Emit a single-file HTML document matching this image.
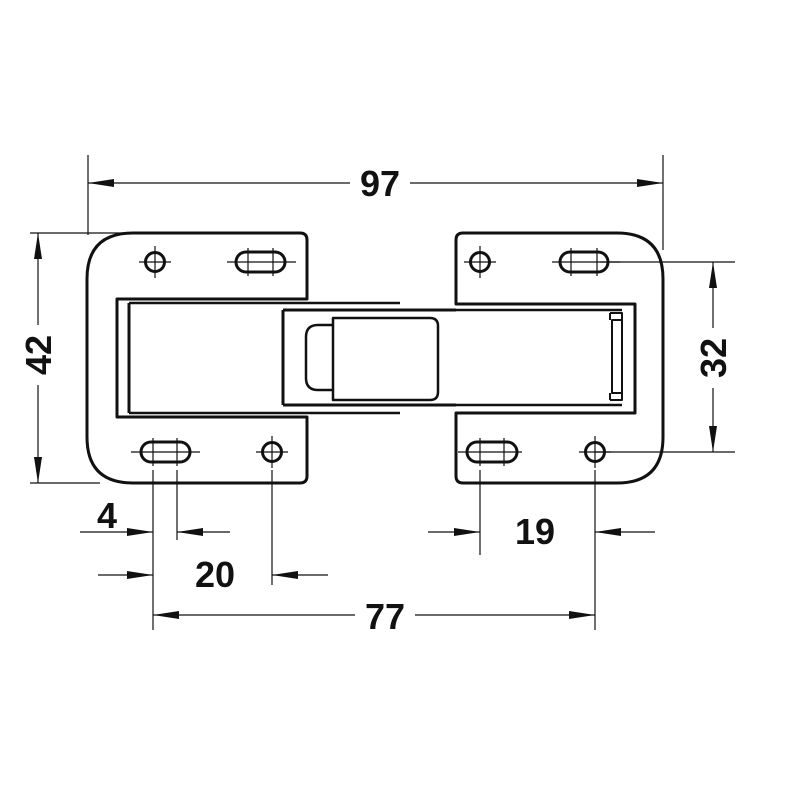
<!DOCTYPE html>
<html><head><style>body{margin:0;background:#fff}svg{display:block}text{font-family:"Liberation Sans",sans-serif;font-weight:bold;font-size:36px;fill:#111}</style></head>
<body>
<svg width="800" height="800" viewBox="0 0 800 800" xmlns="http://www.w3.org/2000/svg">
<defs>
<marker id="a" viewBox="0 0 10 10" refX="10" refY="5" markerWidth="26" markerHeight="8" markerUnits="userSpaceOnUse" orient="auto-start-reverse" preserveAspectRatio="none"><path d="M0,0L10,5L0,10z" fill="#111"/></marker>
</defs>
<g stroke="#111" stroke-width="3" fill="none" stroke-linejoin="round">
<path d="M133,233H300Q307,233 307,240V299H117V417H307V476Q307,483 300,483H133Q87,483 87,437V279Q87,233 133,233Z"/>
<path d="M463,233H617Q663,233 663,279V437Q663,483 617,483H463Q456,483 456,476V413H635V304H456V240Q456,233 463,233Z"/>
<path d="M129,303V413"/>
<path d="M129,303H400M129,413H400" stroke-width="2.5"/>
<path d="M283,310H456M283,405H456M283,310V405"/>
<path d="M333,318H430Q438,318 438,326V392Q438,400 430,400H333Z" stroke-width="2.5"/>
<path d="M333,325H318Q306,325 306,337V378Q306,390 318,390H333" stroke-width="2.5"/>
<path d="M456,310H622M456,405H622" stroke-width="2.5"/>
<path d="M610,313H622V400H610M610,313V320M610,400V393M622,320H612V393H622" stroke-width="2"/>
<circle cx="155" cy="262" r="9.5"/><circle cx="272" cy="452" r="9.5"/>
<circle cx="480" cy="262" r="9.5"/><circle cx="595" cy="452" r="9.5"/>
<rect x="236" y="252" width="49" height="20" rx="10"/>
<rect x="141" y="442" width="49" height="20" rx="10"/>
<rect x="560" y="252" width="48" height="20" rx="10"/>
<rect x="467" y="442" width="50" height="20" rx="10"/>
</g>
<g stroke="#111" stroke-width="1.2" fill="none">
<path d="M139,262H171M155,246V278M464,262H496M480,246V278M256,452H288M272,436V468M579,452H611M595,436V468"/>
<path d="M227,262H296M248,248V276M273,248V276M131,452H200M153,438V466M177,438V466M552,262H620M571,248V276M597,248V276M458,452H522M480,438V466M504,438V466"/>
<path d="M88,155V235M663,155V250M30,233H130M30,483H100M600,262H735M595,452H735"/>
<path d="M153,470V630M177,470V540M272,470V585M480,470V555M595,470V630"/>
<path d="M88,183H350" marker-start="url(#a)"/><path d="M410,183H663" marker-end="url(#a)"/>
<path d="M38,233V325" marker-start="url(#a)"/><path d="M38,385V483" marker-end="url(#a)"/>
<path d="M713,262V328" marker-start="url(#a)"/><path d="M713,388V452" marker-end="url(#a)"/>
<path d="M153,615H355" marker-start="url(#a)"/><path d="M415,615H595" marker-end="url(#a)"/>
<path d="M80,532H153" marker-end="url(#a)"/>
<path d="M230,532H177" marker-end="url(#a)"/>
<path d="M98,575H153" marker-end="url(#a)"/>
<path d="M328,575H272" marker-end="url(#a)"/>
<path d="M428,532H480" marker-end="url(#a)"/>
<path d="M655,532H595" marker-end="url(#a)"/>
</g>
<text x="380" y="196" text-anchor="middle">97</text>
<text x="385" y="629" text-anchor="middle">77</text>
<text x="107" y="528" text-anchor="middle">4</text>
<text x="215" y="587" text-anchor="middle">20</text>
<text x="535" y="544" text-anchor="middle">19</text>
<text transform="translate(51,355) rotate(-90)" text-anchor="middle">42</text>
<text transform="translate(726,358) rotate(-90)" text-anchor="middle">32</text>
</svg>
</body></html>
